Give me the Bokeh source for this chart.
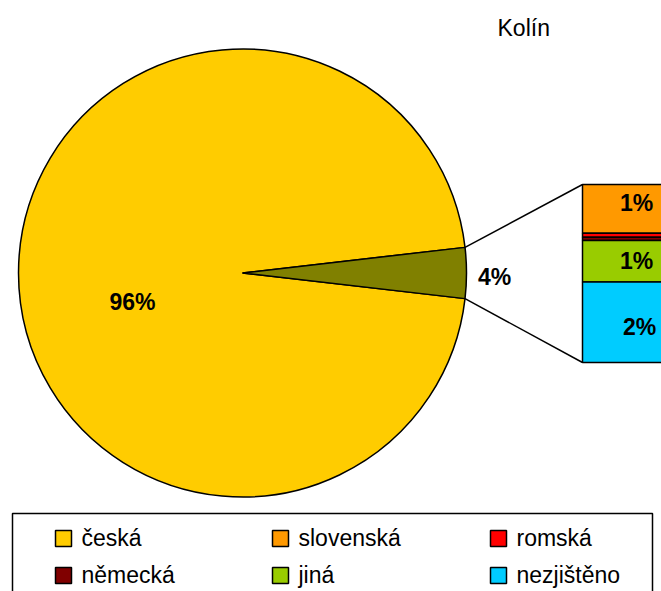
import math
from bokeh.plotting import figure
from bokeh.models import Range1d
from bokeh.core.properties import value
from bokeh.embed import file_html
from bokeh.resources import INLINE

# ---- data ----
title = "Kolín"
categories = ["česká", "slovenská", "romská", "německá", "jiná", "nezjištěno"]
values = [96.35, 1.0, 0.08, 0.07, 0.85, 1.65]
colors = ["#FFCC00", "#FF9900", "#FF0000", "#800000", "#99CC00", "#00CCFF"]
other_color = "#808000"

FONT = "Liberation Sans"
W, H = 661, 591
# data coords: x = screen px, y = 591 - screen px
p = figure(width=W, height=H, output_backend="svg", toolbar_location=None,
           x_range=Range1d(0, W), y_range=Range1d(0, H),
           min_border=0, outline_line_color=None)
p.axis.visible = False
p.grid.visible = False
p.background_fill_color = "white"
p.border_fill_color = "white"

def Y(sy):
    return H - sy

# ---- pie ----
cx, cy, r = 242, Y(272.5), 224
total = sum(values)
main_v = values[0]
other_v = total - main_v
half = other_v / total * math.pi
p.wedge(x=cx, y=cy, radius=r, start_angle=half, end_angle=2 * math.pi - half,
        fill_color=colors[0], line_color="black", line_width=1.5)
p.wedge(x=cx, y=cy, radius=r, start_angle=-half, end_angle=half,
        fill_color=other_color, line_color="black", line_width=1.5)

# ---- bar of pie ----
bar_left, bar_w = 582, 108
bar_top, bar_bot = Y(184), Y(362)
scale = (bar_top - bar_bot) / other_v
sub_v = values[1:]
sub_c = colors[1:]
bottoms, tops = [], []
acc = bar_bot
for v in reversed(sub_v):
    bottoms.append(acc)
    acc += v * scale
    tops.append(acc)
bottoms = bottoms[::-1]
tops = tops[::-1]
p.quad(left=bar_left, right=bar_left + bar_w, bottom=bottoms, top=tops,
       fill_color=sub_c, line_color="black", line_width=1.5)

# connector lines
ex = cx + r * math.cos(half)
p.line(x=[ex, bar_left], y=[cy + r * math.sin(half), bar_top], line_color="black", line_width=1.5)
p.line(x=[ex, bar_left], y=[cy - r * math.sin(half), bar_bot], line_color="black", line_width=1.5)

# ---- labels ----
label_dy = [6, 4, 0, 0, -5]   # small nudges (style)
lx, ly, lt = [], [], []
for v, b, t, dy in zip(sub_v, bottoms, tops, label_dy):
    if round(v) >= 1:
        lx.append(bar_left + bar_w / 2 + (3 if round(v) >= 2 else 0))
        ly.append((b + t) / 2 + dy)
        lt.append(f"{round(v)}%")
lx.append(132); ly.append(Y(301)); lt.append(f"{round(main_v)}%")
lx.append(494); ly.append(Y(276)); lt.append(f"{round(other_v)}%")
p.text(x=lx, y=ly, text=lt, text_font=value(FONT), text_font_style="bold",
       text_font_size="23px", text_align="center", text_baseline="middle", text_color="black")

# title
p.text(x=[497], y=[Y(27)], text=[title], text_font=value(FONT), text_font_size="23px",
       text_align="left", text_baseline="middle", text_color="black")

# ---- legend ----
p.quad(left=12, right=652, top=Y(513), bottom=Y(620), fill_color="white",
       line_color="black", line_width=1.5)
col_x = [55, 272, 490]
row_y = [538, 575]
sq = 16
sx, sy_, tx, ty = [], [], [], []
for i, c in enumerate(categories):
    cxi = col_x[i % 3]
    ryi = row_y[i // 3]
    sx.append(cxi + sq / 2)
    sy_.append(Y(ryi))
    tx.append(cxi + 26)
    ty.append(Y(ryi - 1))
p.rect(x=sx, y=sy_, width=sq, height=sq, fill_color=colors, line_color="black", line_width=1.5)
p.text(x=tx, y=ty, text=categories, text_font=value(FONT), text_font_size="23px",
       text_align="left", text_baseline="middle", text_color="black")

open("out.html", "w").write(file_html(p, INLINE))
